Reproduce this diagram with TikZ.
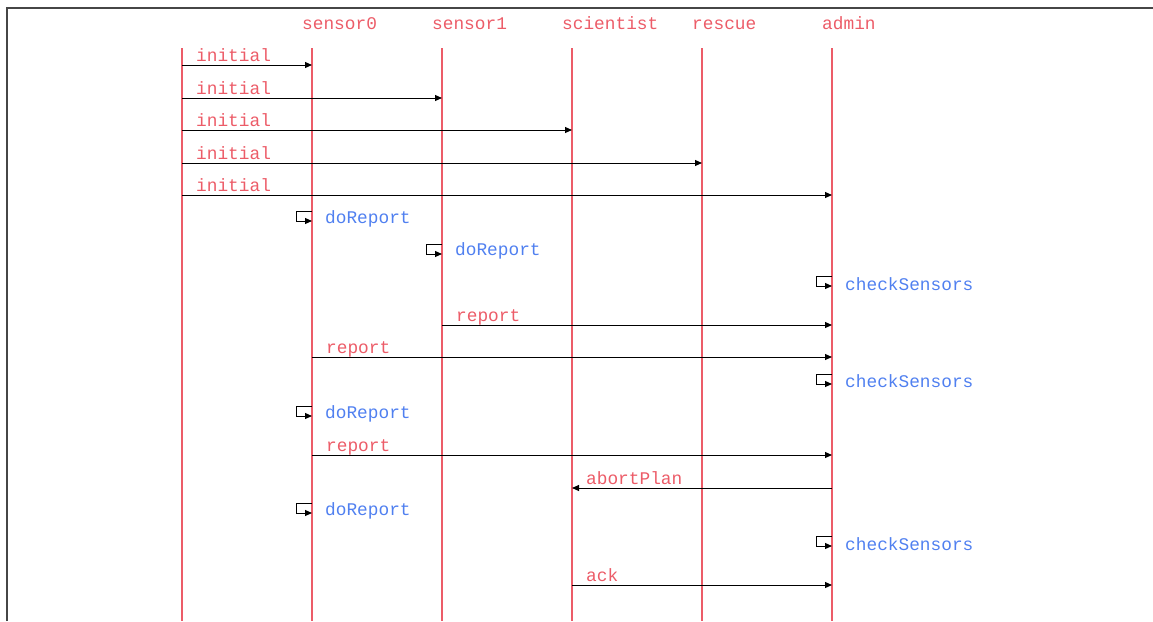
\documentclass[tikz,border=0pt]{standalone}
\usepackage{fontspec}
\setmonofont{Liberation Mono}
\usetikzlibrary{arrows.meta}

\definecolor{lifered}{RGB}{236,92,104}
\definecolor{callblue}{RGB}{80,128,240}
\definecolor{framegray}{RGB}{70,70,70}

\tikzset{
  lifeline/.style={draw=lifered, line width=1.3pt},
  msg/.style={draw=black, line width=1pt, -{Triangle[length=7pt,width=6pt]}},
  msglabel/.style={text=lifered, font=\ttfamily\fontsize{17.8}{18}\selectfont, anchor=base west, inner sep=0pt},
  calllabel/.style={text=callblue, font=\ttfamily\fontsize{17.8}{18}\selectfont, anchor=west, inner sep=0pt},
  headlabel/.style={text=lifered, font=\ttfamily\fontsize{17.8}{18}\selectfont, anchor=base west, inner sep=0pt}
}

\begin{document}
\begin{tikzpicture}[x=1pt, y=-1pt]
    \useasboundingbox (0,0) rectangle (1153,621);

    % Frame
    \draw[framegray, line width=1.5pt] (7,621) -- (7,8) -- (1153,8);

    % Participants
    \node[headlabel] (h-s0)  at (302,29) {sensor0};
    \node[headlabel] (h-s1)  at (432,29) {sensor1};
    \node[headlabel] (h-sci) at (562,29) {scientist};
    \node[headlabel] (h-res) at (692,29) {rescue};
    \node[headlabel] (h-adm) at (822,29) {admin};

    % Lifelines
    \coordinate (env) at (182,48);
    \coordinate (s0)  at (312,48);
    \coordinate (s1)  at (442,48);
    \coordinate (sci) at (572,48);
    \coordinate (res) at (702,48);
    \coordinate (adm) at (832,48);
    \draw[lifeline] (env) -- (env |- 0,621);
    \draw[lifeline] (s0)  -- (s0  |- 0,621);
    \draw[lifeline] (s1)  -- (s1  |- 0,621);
    \draw[lifeline] (sci) -- (sci |- 0,621);
    \draw[lifeline] (res) -- (res |- 0,621);
    \draw[lifeline] (adm) -- (adm |- 0,621);

    % Initial messages
    \draw[msg] (env |- 0,65)  -- (s0  |- 0,65);
    \node[msglabel] (m1) at (196,61)  {initial};
    \draw[msg] (env |- 0,98)  -- (s1  |- 0,98);
    \node[msglabel] (m2) at (196,94)  {initial};
    \draw[msg] (env |- 0,130) -- (sci |- 0,130);
    \node[msglabel] (m3) at (196,126) {initial};
    \draw[msg] (env |- 0,163) -- (res |- 0,163);
    \node[msglabel] (m4) at (196,159) {initial};
    \draw[msg] (env |- 0,195) -- (adm |- 0,195);
    \node[msglabel] (m5) at (196,191) {initial};

    % Self calls
    \draw[msg] (s0  |- 0,211) -- ++(-16,0) |- (s0  |- 0,221);
    \node[calllabel] (c1) at (325,219) {doReport};
    \draw[msg] (s1  |- 0,244) -- ++(-16,0) |- (s1  |- 0,254);
    \node[calllabel] (c2) at (455,251) {doReport};
    \draw[msg] (adm |- 0,276) -- ++(-16,0) |- (adm |- 0,286);
    \node[calllabel] (c3) at (845,284) {checkSensors};

    % Reports
    \draw[msg] (s1 |- 0,325) -- (adm |- 0,325);
    \node[msglabel] (m6) at (456,321) {report};
    \draw[msg] (s0 |- 0,357) -- (adm |- 0,357);
    \node[msglabel] (m7) at (326,353) {report};

    \draw[msg] (adm |- 0,374) -- ++(-16,0) |- (adm |- 0,384);
    \node[calllabel] (c4) at (845,381) {checkSensors};
    \draw[msg] (s0  |- 0,406) -- ++(-16,0) |- (s0  |- 0,416);
    \node[calllabel] (c5) at (325,414) {doReport};

    \draw[msg] (s0 |- 0,455) -- (adm |- 0,455);
    \node[msglabel] (m8) at (326,451) {report};

    % Abort
    \draw[msg] (adm |- 0,488) -- (sci |- 0,488);
    \node[msglabel] (m9) at (586,484) {abortPlan};

    \draw[msg] (s0  |- 0,503) -- ++(-16,0) |- (s0  |- 0,513);
    \node[calllabel] (c6) at (325,511) {doReport};
    \draw[msg] (adm |- 0,536) -- ++(-16,0) |- (adm |- 0,546);
    \node[calllabel] (c7) at (845,544) {checkSensors};

    \draw[msg] (sci |- 0,585) -- (adm |- 0,585);
    \node[msglabel] (m10) at (586,581) {ack};
\end{tikzpicture}
\end{document}
